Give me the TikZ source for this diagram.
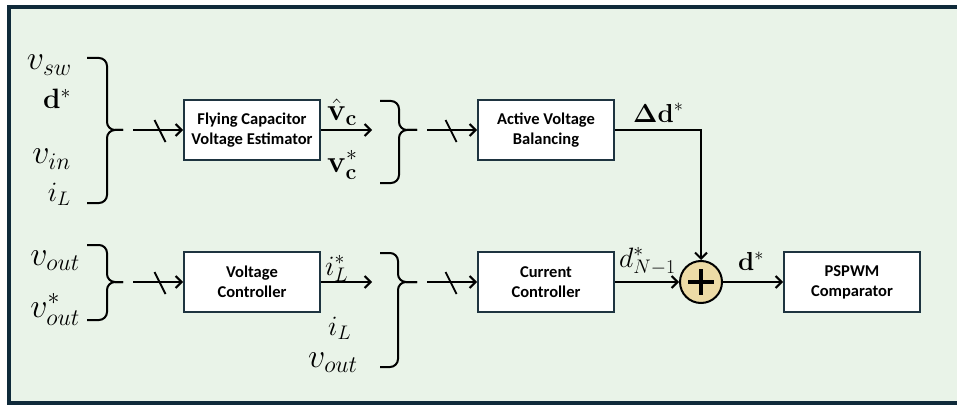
\RequirePackage{fix-cm}
\documentclass[tikz,border=0pt]{standalone}
\usepackage[no-math]{fontspec}
\newfontfamily\boxfont{Carlito}
\usetikzlibrary{arrows.meta}
\definecolor{bgc}{HTML}{E9F3E8}
\definecolor{framec}{HTML}{0F2A3A}
\definecolor{boxc}{HTML}{1E3440}
\definecolor{sumc}{HTML}{EDDBA6}
\begin{document}
\begin{tikzpicture}[x=1pt,y=-1pt,
  blk/.style={draw=boxc,line width=2pt,fill=white,minimum width=136pt,minimum height=60pt,inner sep=0pt,align=center,font=\boxfont\fontsize{16.5}{20}\selectfont\bfseries},
  lbl/.style={inner sep=0pt,font=\fontsize{28}{32}\selectfont},
  lblv/.style={inner sep=0pt,font=\fontsize{34}{38}\selectfont},
  lblb/.style={inner sep=0pt,font=\fontsize{31}{35}\selectfont},
  lbls/.style={inner sep=0pt,font=\fontsize{26}{30}\selectfont},
  arr/.style={line width=2pt,-{Straight Barb[length=6pt,width=12pt]}},
  br/.style={line width=2pt,rounded corners=8pt},
  slash/.pic={\draw[line width=1.8pt] (-5.5,-11) -- (5.5,11);}
]
\clip (0,0) rectangle (957,406);
\path[use as bounding box] (0,0) rectangle (957,406);
\draw[framec,line width=4pt,fill=bgc] (9,7) rectangle (975,402.5);

% blocks
\node[blk] (fcve) at (252,130) {Flying Capacitor\\Voltage Estimator};
\node[blk] (avb) at (546,130) {Active Voltage\\Balancing};
\node[blk] (vc) at (252,282) {Voltage\\Controller};
\node[blk] (cc) at (546,282) {Current\\Controller};
\node[blk] (pwm) at (852,282) {PSPWM\\Comparator};
\node[circle,draw=black,line width=2pt,fill=sumc,minimum size=42pt,inner sep=0pt] (sum) at (701,282) {};
\draw[line width=4pt] (sum.center) ++(-13,0) -- ++(26,0) (sum.center) ++(0,-13) -- ++(0,26);

% braces
\draw[br] (87,58) -- (107,58) -- (107,130) -- (123,130);
\draw[br] (87,203) -- (107,203) -- (107,130) -- (123,130);
\draw[br] (380,101) -- (399,101) -- (399,130) -- (417,130);
\draw[br] (380,183) -- (399,183) -- (399,130) -- (417,130);
\draw[br] (87,245) -- (107,245) -- (107,282) -- (123,282);
\draw[br] (87,320) -- (107,320) -- (107,282) -- (123,282);
\draw[br] (380,253) -- (398,253) -- (398,282) -- (417,282);
\draw[br] (380,367) -- (398,367) -- (398,282) -- (417,282);

% coordinates
\coordinate (i1) at (133,130);
\coordinate (o1) at (372,130);
\coordinate (i2) at (427,130);
\coordinate (i3) at (133,282);
\coordinate (o3) at (372,282);
\coordinate (i4) at (427,282);

% connectors
\draw[arr] (i1) -- (fcve.west);
\draw[arr] (fcve.east) -- (o1);
\draw[arr] (i2) -- (avb.west);
\draw[arr] (avb.east) -| (sum.north);
\draw[arr] (i3) -- (vc.west);
\draw[arr] (vc.east) -- (o3);
\draw[arr] (i4) -- (cc.west);
\draw[arr] (cc.east) -- (sum.west);
\draw[arr] (sum.east) -- (pwm.west);

% slashes
\pic at (160,131) {slash};
\pic at (451,131) {slash};
\pic at (160,283) {slash};
\pic at (451,283) {slash};

% labels
\node[lblv,anchor=base east] (l1) at (72,70) {$v_{sw}$};
\node[lbl,anchor=base east] (l2) at (71,109) {$\mathbf{d}^*$};
\node[lblv,anchor=base east] (l3) at (71,164) {$v_{in}$};
\node[lbl,anchor=base east] (l4) at (71,201) {$i_L$};
\node[lblb,anchor=base west] (l5) at (327,121) {$\hat{\mathbf{v}}_{\mathbf{c}}$};
\node[lblb,anchor=base west] (l6) at (327,172) {$\mathbf{v}_{\mathbf{c}}^*$};
\node[lbls,anchor=base west] (l7) at (633,123) {$\mathbf{\Delta d}^*$};
\node[lblv,anchor=base east] (l8) at (80,265) {$v_{out}$};
\node[lblv,anchor=base east] (l9) at (80,317) {$v_{out}^*$};
\node[lbl,anchor=base west] (l10) at (325,275) {$i_L^*$};
\node[lbl,anchor=base west] (l11) at (328,335) {$i_L$};
\node[lblv,anchor=base west] (l12) at (308,367) {$v_{out}$};
\node[lbl,anchor=base west] (l13) at (619,267) {$d^*_{N-1}$};
\node[lbls,anchor=base west] (l14) at (738,270) {$\mathbf{d}^*$};
\end{tikzpicture}
\end{document}
